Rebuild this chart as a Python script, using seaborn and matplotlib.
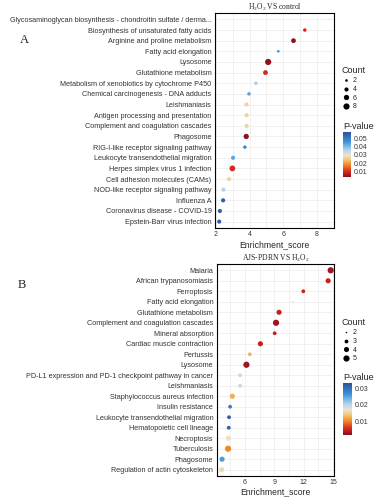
import numpy as np
import pandas as pd
import seaborn as sns
import matplotlib.pyplot as plt
from matplotlib.colors import LinearSegmentedColormap, Normalize
from matplotlib.cm import ScalarMappable
from matplotlib.lines import Line2D
from matplotlib.ticker import MultipleLocator

# Panel A: H2O2 vs control
terms_a = [
    'Glycosaminoglycan biosynthesis - chondroitin sulfate / derma...',
    'Biosynthesis of unsaturated fatty acids',
    'Arginine and proline metabolism',
    'Fatty acid elongation',
    'Lysosome',
    'Glutathione metabolism',
    'Metabolism of xenobiotics by cytochrome P450',
    'Chemical carcinogenesis - DNA adducts',
    'Leishmaniasis',
    'Antigen processing and presentation',
    'Complement and coagulation cascades',
    'Phagosome',
    'RIG-I-like receptor signaling pathway',
    'Leukocyte transendothelial migration',
    'Herpes simplex virus 1 infection',
    'Cell adhesion molecules (CAMs)',
    'NOD-like receptor signaling pathway',
    'Influenza A',
    'Coronavirus disease - COVID-19',
    'Epstein-Barr virus infection',
]
score_a = [8.7, 7.27, 6.6, 5.7, 5.1, 4.94, 4.37, 3.96, 3.82, 3.82,
           3.82, 3.8, 3.72, 3.02, 2.98, 2.78, 2.45, 2.43, 2.24, 2.2]
count_a = [1, 3, 5, 2, 8, 5, 3, 3, 4, 4, 4, 6, 3, 4, 7, 4, 4, 4, 4, 4]
pval_a = [0.0305, 0.0096, 0.004, 0.047, 0.004, 0.0096, 0.037, 0.044, 0.0267, 0.0267,
          0.0267, 0.004, 0.048, 0.043, 0.0096, 0.0267, 0.036, 0.055, 0.055, 0.055]

# Panel B: AJS-PDRN vs H2O2
terms_b = [
    'Malaria',
    'African trypanosomiasis',
    'Ferroptosis',
    'Fatty acid elongation',
    'Glutathione metabolism',
    'Complement and coagulation cascades',
    'Mineral absorption',
    'Cardiac muscle contraction',
    'Pertussis',
    'Lysosome',
    'PD-L1 expression and PD-1 checkpoint pathway in cancer',
    'Leishmaniasis',
    'Staphylococcus aureus infection',
    'Insulin resistance',
    'Leukocyte transendothelial migration',
    'Hematopoietic cell lineage',
    'Necroptosis',
    'Tuberculosis',
    'Phagosome',
    'Regulation of actin cytoskeleton',
]
score_b = [14.76, 14.5, 11.96, 10.9, 9.48, 9.17, 9.03, 7.57, 6.48, 6.14,
           5.49, 5.49, 4.7, 4.47, 4.36, 4.33, 4.3, 4.26, 3.65, 3.6]
count_b = [5, 4, 3, 2, 4, 5, 3, 4, 3, 5, 3, 3, 4, 3, 3, 3, 4, 5, 4, 4]
pval_b = [0.003, 0.005, 0.005, 0.018, 0.005, 0.003, 0.005, 0.005, 0.013, 0.003,
          0.0194, 0.0194, 0.0125, 0.0284, 0.0315, 0.0315, 0.0166, 0.0104, 0.0256, 0.016]

cmap = LinearSegmentedColormap.from_list('pv', [
    (0.0, '#8b0d1e'), (0.12, '#d7261e'), (0.27, '#f08a24'), (0.38, '#f3c46a'),
    (0.48, '#ece3cf'), (0.6, '#b5d4ea'), (0.78, '#3d95dd'), (1.0, '#2f4f9a')])

sns.set_style('white')
plt.rcParams['font.family'] = ['Liberation Sans', 'DejaVu Sans']
plt.rcParams['mathtext.fontset'] = 'custom'
plt.rcParams['mathtext.rm'] = 'Liberation Serif'
plt.rcParams['mathtext.it'] = 'Liberation Serif:italic'

W, H = 377, 500
fig = plt.figure(figsize=(W / 100, H / 100), dpi=100)


def fx(px):
    return px / W


def fy(py):
    return 1 - py / H


def panel(rect, terms, score, count, pval, norm, size_norm, sizes, xlim, major, minor,
          title, title_y, xlabel_y, legend_top, legend_counts, cbar_rect, cbar_ticks):
    ax = fig.add_axes(rect)
    df = pd.DataFrame({'Term': terms, 'Enrichment_score': score,
                       'Count': count, 'P-value': pval})
    ax.xaxis.set_major_locator(MultipleLocator(major))
    ax.xaxis.set_minor_locator(MultipleLocator(minor))
    ax.grid(True, which='both', axis='x', color='#ebebeb', lw=0.5, zorder=0)
    ax.grid(True, which='major', axis='y', color='#ebebeb', lw=0.5, zorder=0)
    ax.set_axisbelow(True)
    sns.scatterplot(data=df, x='Enrichment_score', y='Term', hue='P-value',
                    palette=cmap, hue_norm=norm, size='Count', sizes=sizes,
                    size_norm=size_norm, legend=False, linewidth=0, ax=ax, zorder=3)
    ax.set_xlim(*xlim)
    ax.set_ylim(len(terms) - 0.4, -0.6)
    ax.set_ylabel('')
    ax.set_xlabel('')
    ax.tick_params(axis='y', labelsize=5.2, length=1.5, width=0.5, pad=1, colors='#333333')
    ax.tick_params(axis='x', labelsize=5, length=1.5, width=0.5, pad=0.5, colors='#333333')
    ax.tick_params(which='minor', length=0)
    for s in ax.spines.values():
        s.set_color('black')
        s.set_linewidth(0.8)
    fig.text((rect[0] + rect[0] + rect[2]) / 2, fy(title_y), title, fontsize=5.5,
             ha='center', va='center', family='Liberation Serif')
    fig.text((rect[0] + rect[0] + rect[2]) / 2, fy(xlabel_y), 'Enrichment_score',
             fontsize=6.2, ha='center', va='center')

    # size legend
    lo, hi = size_norm
    handles = []
    for c in legend_counts:
        s = sizes[0] + (c - lo) / (hi - lo) * (sizes[1] - sizes[0])
        handles.append(Line2D([], [], marker='o', ls='', color='black',
                              markersize=np.sqrt(s), markeredgewidth=0))
    leg = ax.legend(handles, [str(c) for c in legend_counts], title='Count',
                    loc='upper left', bbox_to_anchor=(fx(338), fy(legend_top)),
                    bbox_transform=fig.transFigure, frameon=False, fontsize=5,
                    title_fontsize=6.5, handletextpad=0.4, labelspacing=0.25,
                    borderpad=0, handlelength=1.2)
    leg._legend_box.align = 'left'

    cax = fig.add_axes(cbar_rect)
    cb = fig.colorbar(ScalarMappable(norm=norm, cmap=cmap), cax=cax)
    cb.outline.set_visible(False)
    cb.set_ticks(cbar_ticks)
    cb.set_ticklabels([f'{t:.2f}' for t in cbar_ticks])
    cax.tick_params(length=0, labelsize=5, pad=2, colors='#333333')
    cax.set_title('P-value', fontsize=6.5, loc='left', pad=2)
    return ax


panel([fx(215), fy(228), fx(334 - 215), (228 - 13) / H],
      terms_a, score_a, count_a, pval_a, Normalize(0.003, 0.058), (1, 8), (0.8, 20),
      (1.95, 9.0), 2, 1, 'H$_2$O$_2$ VS control', 7, 245, 63, [2, 4, 6, 8],
      [fx(343), fy(177), fx(8), 45 / H], [0.01, 0.02, 0.03, 0.04, 0.05])

panel([fx(216.7), fy(476), fx(334 - 216.7), (476 - 264) / H],
      terms_b, score_b, count_b, pval_b, Normalize(0.002, 0.033), (2, 5), (1.2, 20),
      (3.1, 15.1), 3, 1.5, 'AJS-PDRN VS H$_2$O$_2$', 258, 492, 315, [2, 3, 4, 5],
      [fx(343), fy(435), fx(9), 52 / H], [0.01, 0.02, 0.03])

fig.text(fx(24), fy(40), 'A', fontsize=9, ha='center', va='center', family='Liberation Serif')
fig.text(fx(22), fy(285), 'B', fontsize=9, ha='center', va='center', family='Liberation Serif')

fig.savefig('out.png', dpi=100)
